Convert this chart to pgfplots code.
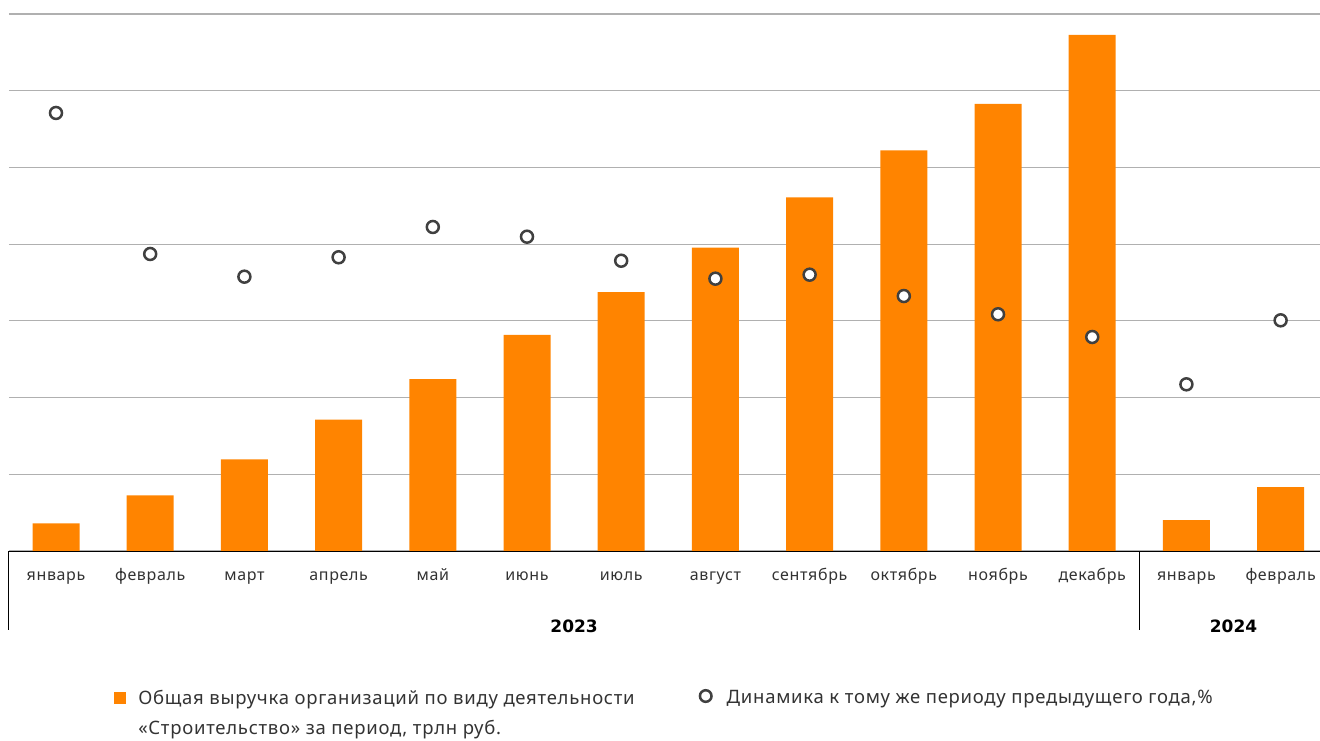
\documentclass[border=0pt]{standalone}
\usepackage{pgfplots}
\pgfplotsset{compat=1.18}
\usepackage{fontspec}
\setmainfont{Noto Sans}[LetterSpace=4]
\newfontfamily\yearfont{DejaVu Sans}
\definecolor{barorange}{HTML}{FF8400}
\definecolor{txt}{HTML}{333333}
\definecolor{mk}{HTML}{404040}
\definecolor{gridc}{HTML}{B0B0B0}
\begin{document}
\begin{tikzpicture}
\path[use as bounding box] (0pt,0pt) rectangle (1320pt,-740pt);
\begin{axis}[
  at={(8.9pt,-551pt)}, anchor=south west,
  scale only axis, width=1311.1pt, height=537pt,
  xmin=-0.5, xmax=13.418, ymin=0, ymax=7,
  clip=false,
  axis line style={draw=none},
  tick style={draw=none},
  ytick={0,1,...,7}, yticklabels={},
  ymajorgrids, grid style={gridc, line width=1.1pt},
  xtick={0,...,13},
  xticklabels={январь,февраль,март,апрель,май,июнь,июль,август,сентябрь,октябрь,ноябрь,декабрь,январь,февраль},
  xticklabel style={anchor=base, yshift=-29pt, font=\fontsize{16}{18}\selectfont, text=txt},
  legend style={at={(0.0802,-0.255)}, anchor=north west, draw=none, fill=none,
    inner sep=0pt, font=\fontsize{18.5}{30}\selectfont, text=txt,
    cells={anchor=west, align=left},
    /tikz/every even column/.append style={column sep=62pt}},
  legend columns=2,
]
\addplot[ybar, bar width=47pt, fill=barorange, draw=none,
  legend image code/.code={\fill[barorange] (0pt,9pt) rectangle (12pt,21pt); \path[draw=none,fill=none] (0pt,-21pt) rectangle (22pt,21pt);}]
  coordinates {(0,0.361) (1,0.726) (2,1.195) (3,1.712) (4,2.242) (5,2.816) (6,3.376) (7,3.954) (8,4.611) (9,5.224) (10,5.827) (11,6.727) (12,0.404) (13,0.834)};
\addlegendentry{Общая выручка организаций по виду деятельности\\«Строительство» за период, трлн руб.}
\addplot[only marks, mark=*, mark size=6pt, mark options={fill=white, draw=mk, line width=2.5pt},
  legend image code/.code={\draw[mk, fill=white, line width=2.5pt] (6pt,17pt) circle (5.8pt); \path[draw=none,fill=none] (0pt,-21pt) rectangle (25pt,21pt);}]
  coordinates {(0,5.710) (1,3.872) (2,3.576) (3,3.829) (4,4.224) (5,4.097) (6,3.784) (7,3.550) (8,3.602) (9,3.324) (10,3.086) (11,2.790) (12,2.173) (13,3.007)};
\addlegendentry{Динамика к тому же периоду предыдущего года,\%\\\strut}
\draw[black, line width=1pt] (axis cs:-0.5,0) -- (axis cs:13.418,0);
\draw[black, line width=1pt] (axis cs:-0.5,0) -- (axis cs:-0.5,-1.03);
\draw[black, line width=1pt] (axis cs:11.5,0) -- (axis cs:11.5,-1.03);
\node[font=\yearfont\bfseries\fontsize{17}{20}\selectfont, text=black] at (axis cs:5.5,-0.978) {2023};
\node[font=\yearfont\bfseries\fontsize{17}{20}\selectfont, text=black] at (axis cs:12.5,-0.978) {2024};
\end{axis}
\end{tikzpicture}
\end{document}
